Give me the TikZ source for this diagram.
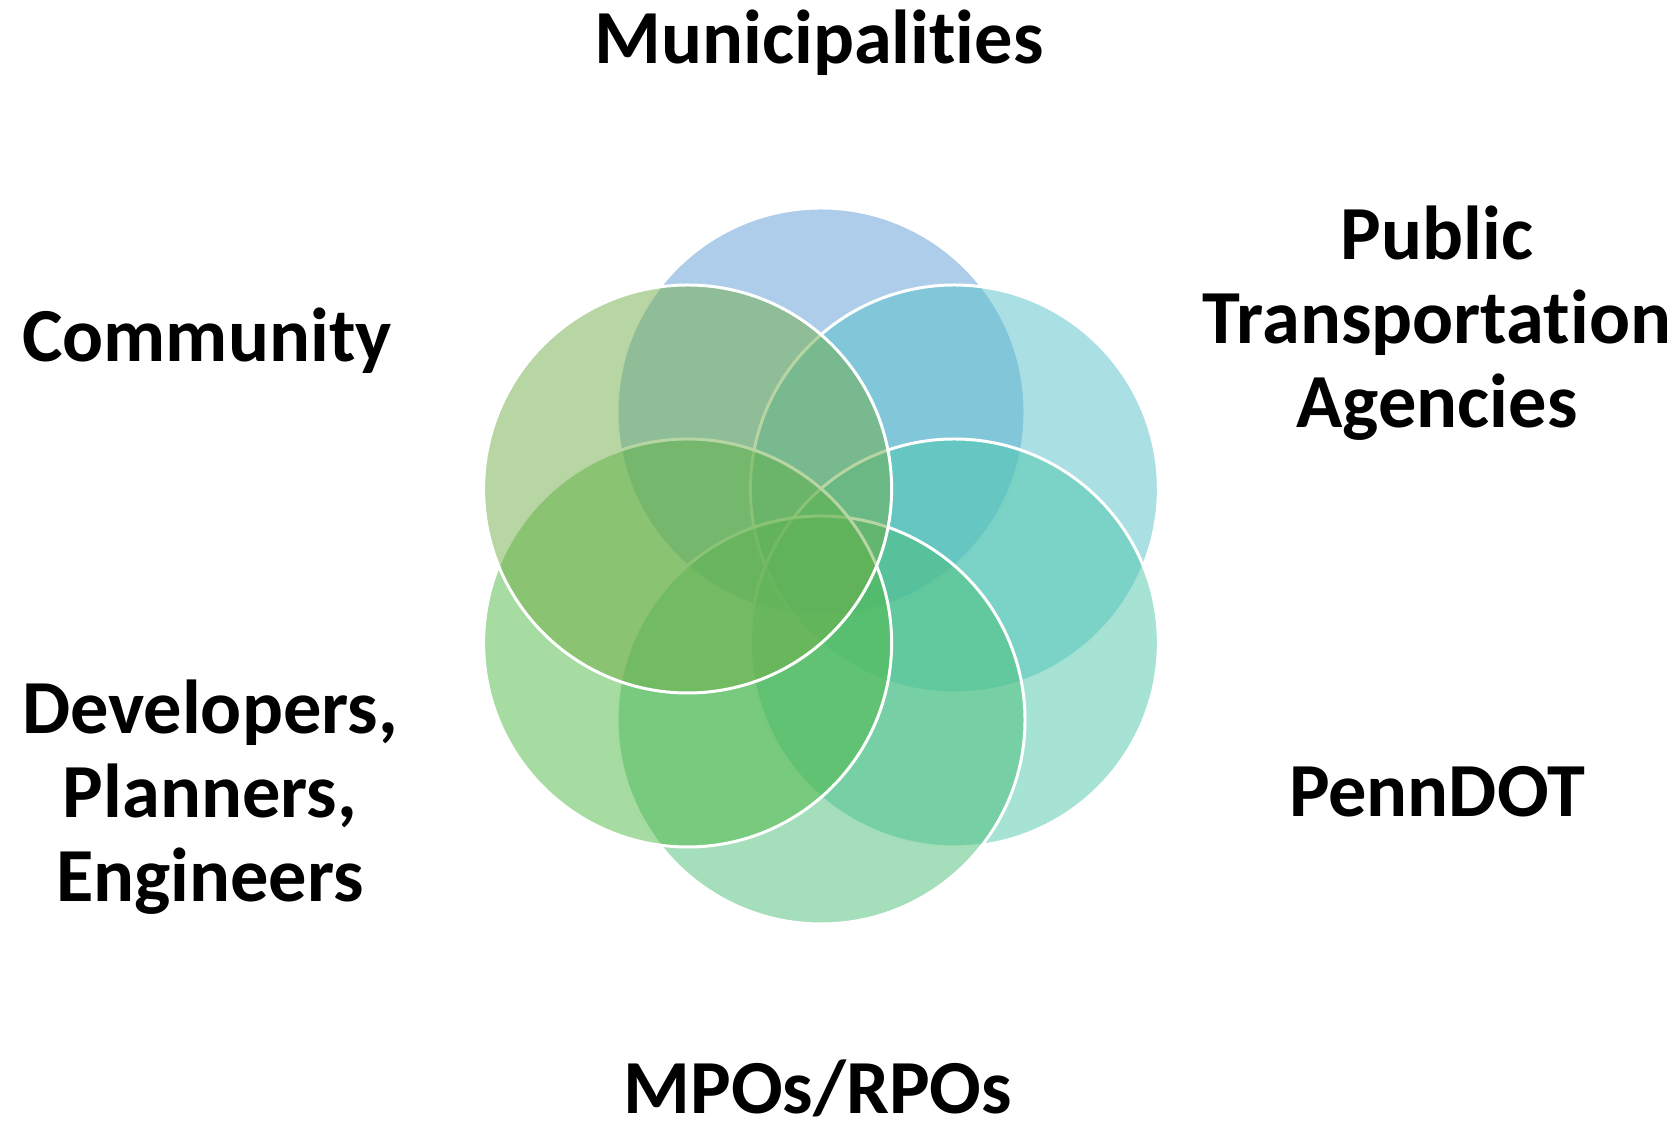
\documentclass[tikz,border=0pt]{standalone}
\usepackage{fontspec}
\setmainfont[RawFeature={-liga;-dlig}]{Carlito}
\definecolor{muniblue}{HTML}{5B9BD5}
\definecolor{transitcyan}{HTML}{55BFC9}
\definecolor{pennteal}{HTML}{4DC7A9}
\definecolor{mpogreen}{HTML}{4BBD77}
\definecolor{devgreen}{HTML}{4DB743}
\definecolor{commolive}{HTML}{70AD47}
\tikzset{
  petal/.style={fill opacity=0.5, draw=white, line width=1.7pt},
  group/.style={font=\bfseries\fontsize{43.5}{47.8}\selectfont, align=center, inner sep=0pt}
}
\begin{document}
\begin{tikzpicture}[x=0.02cm, y=0.02cm]
                \useasboundingbox (0,0) rectangle (1680,1128);
                \coordinate (hub) at (821,562);
                % six circles round the hub, top one first
                \foreach \ang/\col in {90/muniblue, 30/transitcyan, -30/pennteal, -90/mpogreen, -150/devgreen, 150/commolive}
                    \draw[petal, fill=\col] (hub) ++(\ang:154) circle [radius=204];
                \node[group, anchor=base]  (muni)    at (819,1064) {Municipalities};
                \node[group, anchor=north] (transit) at (1437,922) {Public\\Transportation\\Agencies};
                \node[group, anchor=base]  (penndot) at (1437,311) {PennDOT};
                \node[group, anchor=base]  (mpo)     at (818,14)   {MPOs/RPOs};
                \node[group, anchor=north] (devs)    at (210,448)  {Developers,\\Planners,\\Engineers};
                \node[group, anchor=base]  (comm)    at (207,766)  {Community};
            \end{tikzpicture}
\end{document}
